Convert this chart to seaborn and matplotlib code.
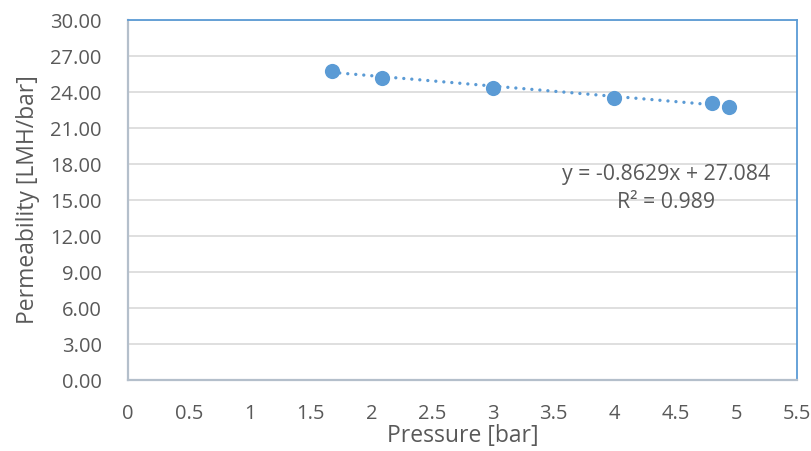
import matplotlib
matplotlib.use("Agg")
import matplotlib.pyplot as plt
import seaborn as sns
import numpy as np
import pandas as pd

# Data
pressure = [1.675, 2.09, 3.0, 3.997, 4.80, 4.937]
permeability = [25.78, 25.14, 24.36, 23.53, 23.11, 22.75]
slope = -0.8629
intercept = 27.084
r_squared = 0.989
x_ticks = [0, 0.5, 1, 1.5, 2, 2.5, 3, 3.5, 4, 4.5, 5, 5.5]
y_ticks = [0, 3, 6, 9, 12, 15, 18, 21, 24, 27, 30]

sns.set_theme(style="white")
plt.rcParams['font.family'] = ['Open Sans', 'DejaVu Sans']

text_color = '#595959'
blue = '#5b9bd5'

df = pd.DataFrame({'Pressure': pressure, 'Permeability': permeability})
trend_x = np.array([min(pressure), max(pressure)])
trend_df = pd.DataFrame({'x': trend_x, 'y': slope * trend_x + intercept})

fig = plt.figure(figsize=(8.12, 4.51), dpi=100)
ax = fig.add_axes([128 / 812, 1 - 380 / 451, (797 - 128) / 812, (380 - 20) / 451])

ax.set_xlim(0, 5.5)
ax.set_ylim(0, 30)
ax.set_xticks(x_ticks)
ax.set_yticks(y_ticks)
ax.set_xticklabels([f"{t:g}" for t in x_ticks])
ax.set_yticklabels([f"{t:.2f}" for t in y_ticks])
ax.grid(axis='y', color='#d9d9d9', linewidth=1.2)
ax.set_axisbelow(True)

sns.lineplot(data=trend_df, x='x', y='y', ax=ax, color=blue, linewidth=2.4,
             linestyle=(0, (0.01, 2.4)), dash_capstyle='round',
             solid_capstyle='round', zorder=2)
sns.scatterplot(data=df, x='Pressure', y='Permeability', ax=ax, color=blue,
                s=120, edgecolor=blue, linewidth=0, zorder=3)

for side in ['top', 'right']:
    ax.spines[side].set_color(blue)
    ax.spines[side].set_linewidth(1.3)
for side in ['left', 'bottom']:
    ax.spines[side].set_color('#b4bfcb')
    ax.spines[side].set_linewidth(1.6)

ax.tick_params(axis='both', length=0, labelsize=14.5, labelcolor=text_color)
ax.tick_params(axis='y', pad=19)
ax.tick_params(axis='x', pad=17)

ax.set_xlabel('Pressure [bar]', fontsize=16.5, color=text_color, labelpad=0)
ax.set_ylabel('Permeability [LMH/bar]', fontsize=16.5, color=text_color, labelpad=7)

ax.text(4.42, 17.1, f"y = {slope}x + {intercept}", fontsize=15.3, color=text_color,
        ha='center', va='center')
ax.text(4.42, 14.75, f"R² = {r_squared}", fontsize=15.3, color=text_color,
        ha='center', va='center')

fig.savefig('out.png', dpi=100)
